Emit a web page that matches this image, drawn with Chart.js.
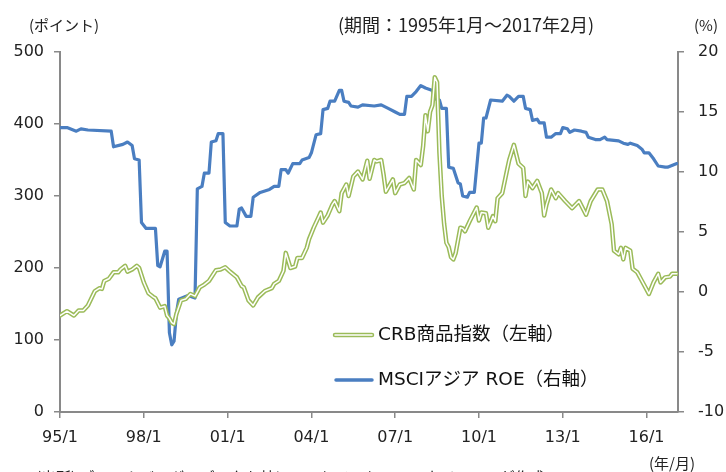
<!DOCTYPE html>
<html>
<head>
<meta charset="utf-8">
<script src="https://cdn.jsdelivr.net/npm/chart.js@4.4.1/dist/chart.umd.min.js"></script>
<style>
  body { margin: 0; background: #fff; }
  #wrap { width: 726px; height: 472px; position: relative; }
</style>
</head>
<body>
<div id="wrap"><canvas id="roeChart"></canvas></div>
<script>
// months are "year/month"
const crbDates = ['1995/1','1995/4','1995/7','1995/9','1995/11','1996/1','1996/4','1996/6','1996/7','1996/8','1996/10','1996/12',
  '1997/2','1997/3','1997/5','1997/6','1997/8','1997/10','1997/11','1998/1','1998/3','1998/5','1998/6','1998/8','1998/10',
  '1998/11','1998/12','1999/1','1999/2','1999/3','1999/5','1999/7','1999/9','1999/11','2000/1','2000/3','2000/5','2000/7',
  '2000/8','2000/10','2000/12','2001/2','2001/5','2001/7','2001/8','2001/10','2001/12','2002/2','2002/5','2002/8','2002/9',
  '2002/11','2003/1','2003/2','2003/4','2003/6','2003/7','2003/9','2003/11','2003/12','2004/2','2004/4','2004/5','2004/6',
  '2004/8','2004/10','2004/11','2005/1','2005/2','2005/4','2005/5','2005/7','2005/9','2005/11','2006/1','2006/2','2006/4',
  '2006/5','2006/7','2006/8','2006/9','2006/12','2007/1','2007/3','2007/5','2007/7','2007/9','2007/10','2007/12','2008/1',
  '2008/2','2008/3','2008/4','2008/5','2008/6','2008/7','2008/8','2008/9','2008/10','2008/11','2008/12','2009/1','2009/2',
  '2009/3','2009/5','2009/6','2009/7','2009/9','2009/12','2010/1','2010/2','2010/4','2010/5','2010/7','2010/8','2010/9',
  '2010/11','2011/1','2011/2','2011/4','2011/6','2011/8','2011/9','2011/10','2011/12','2012/2','2012/4','2012/5','2012/6',
  '2012/8','2012/10','2012/11','2013/2','2013/5','2013/8','2013/11','2014/1','2014/4','2014/6','2014/8','2014/10','2014/11',
  '2015/1','2015/2','2015/3','2015/4','2015/6','2015/7','2015/9','2015/11','2016/2','2016/4','2016/6','2016/7','2016/9',
  '2016/11','2016/12','2017/2'];
const crbValues = [134,140,134,141,141,148,168,172,171,182,185,194,
  194,198,203,195,198,203,200,180,165,160,158,145,147,
  134,130,124,122,136,155,157,164,161,173,177,182,192,
  197,198,201,195,187,175,173,155,148,159,168,172,178,
  182,196,221,200,202,214,214,228,240,256,270,277,263,
  273,288,293,279,304,316,300,327,334,323,349,324,350,
  348,350,330,306,323,304,316,318,325,309,350,343,369,
  412,390,417,426,465,458,360,300,262,235,229,215,212,
  221,256,255,251,265,284,266,277,276,256,272,265,297,
  304,335,350,371,345,339,300,320,311,321,304,273,288,
  309,297,304,293,283,293,274,293,309,309,293,261,224,
  219,228,212,228,224,199,194,182,164,180,192,180,187,
  188,192,192];

const roeDates = ['1995/1','1995/4','1995/8','1995/10','1996/1','1996/11','1996/12','1997/4','1997/6','1997/8','1997/9','1997/11',
  '1997/12','1998/2','1998/6','1998/7','1998/8','1998/10','1998/11','1998/12','1999/1','1999/2','1999/3','1999/4','1999/8',
  '1999/11','1999/12','2000/2','2000/3','2000/5','2000/6','2000/8','2000/9','2000/11','2000/12','2001/2','2001/5','2001/6',
  '2001/7','2001/9','2001/11','2001/12','2002/3','2002/7','2002/9','2002/11','2002/12','2003/2','2003/3','2003/5','2003/8',
  '2003/9','2003/12','2004/1','2004/3','2004/5','2004/6','2004/8','2004/9','2004/11','2005/1','2005/2','2005/3','2005/5',
  '2005/6','2005/9','2005/11','2006/4','2006/7','2006/10','2007/1','2007/3','2007/5','2007/6','2007/8','2007/10','2007/12',
  '2008/2','2008/5','2008/6','2008/8','2008/9','2008/11','2008/12','2009/2','2009/4','2009/5','2009/6','2009/8','2009/9',
  '2009/11','2010/1','2010/2','2010/3','2010/4','2010/6','2010/11','2011/1','2011/2','2011/4','2011/6','2011/8','2011/9',
  '2011/11','2011/12','2012/2','2012/3','2012/5','2012/6','2012/8','2012/10','2012/12','2013/1','2013/3','2013/4','2013/6',
  '2013/9','2013/11','2013/12','2014/3','2014/5','2014/7','2014/8','2015/1','2015/3','2015/5','2015/6','2015/9','2015/11',
  '2015/12','2016/2','2016/4','2016/6','2016/9','2016/10','2017/2'];
const roeValues = [13.7,13.7,13.4,13.6,13.5,13.4,12.1,12.3,12.5,12.2,11.1,11.0,
  5.8,5.3,5.3,2.2,2.1,3.4,3.4,-3.4,-4.4,-4.1,-1.8,-0.6,-0.3,
  -0.5,8.6,8.8,9.9,9.9,12.5,12.6,13.2,13.2,5.8,5.5,5.5,6.9,
  7.0,6.3,6.3,7.9,8.3,8.55,8.8,8.8,10.2,10.2,9.9,10.7,10.7,
  11.0,11.2,11.6,13.1,13.2,15.2,15.3,15.9,15.9,16.8,16.8,15.9,15.8,
  15.5,15.4,15.6,15.5,15.6,15.3,15.0,14.8,14.8,16.3,16.3,16.7,17.2,
  17.0,16.8,16.1,16.0,15.3,15.3,10.4,10.3,9.1,9.0,8.0,7.9,8.3,
  8.3,12.4,12.4,14.5,14.5,16.0,15.9,16.4,16.3,15.9,16.3,16.3,15.3,
  15.2,14.3,14.4,14.1,14.1,12.9,12.9,13.2,13.2,13.7,13.6,13.3,13.5,
  13.4,13.3,12.9,12.7,12.7,12.9,12.7,12.6,12.4,12.3,12.4,12.2,11.9,
  11.6,11.6,11.1,10.5,10.4,10.4,10.7,10.7];

const xTickLabels = ['95/1','98/1','01/1','04/1','07/1','10/1','13/1','16/1'];
const legendLabels = ['CRB商品指数（左軸）', 'MSCIアジア ROE（右軸）'];

const green = '#9BBB59';
const blue = '#4A7EC1';
const axisGray = '#898989';

function monthIndex(d) {
  const [y, m] = d.split('/').map(Number);
  return (y - 1995) * 12 + (m - 1);
}
const toPoints = (dates, vals) => dates.map((d, i) => ({ x: monthIndex(d), y: vals[i] }));
const crbPoints = toPoints(crbDates, crbValues);
const roePoints = toPoints(roeDates, roeValues);

const annotations = {
  id: 'annotations',
  afterDraw(chart) {
    const ctx = chart.ctx;
    ctx.save();
    ctx.fillStyle = '#222';
    ctx.textBaseline = 'middle';
    ctx.font = '15px "Noto Sans CJK JP"';
    ctx.textAlign = 'left';
    ctx.fillText('(ポイント)', 29, 25);
    ctx.textAlign = 'center';
    ctx.fillText('(%)', 706, 25);
    ctx.fillText('(年/月)', 672, 463);
    ctx.font = '18px "Noto Sans CJK JP"';
    ctx.fillText('(期間：1995年1月～2017年2月)', 466, 25);
    ctx.font = '15px "Noto Sans CJK JP"';
    ctx.textAlign = 'left';
    ctx.textBaseline = 'top';
    ctx.fillText('(出所) ブルームバーグのデータを基にニッセイアセットマネジメントが作成', 36, 470);

    // legend
    ctx.lineCap = 'round';
    ctx.strokeStyle = green;
    ctx.lineWidth = 4.5;
    ctx.beginPath(); ctx.moveTo(335, 335); ctx.lineTo(372, 335); ctx.stroke();
    ctx.strokeStyle = '#fff';
    ctx.lineWidth = 1.5;
    ctx.beginPath(); ctx.moveTo(335, 335); ctx.lineTo(372, 335); ctx.stroke();
    ctx.strokeStyle = blue;
    ctx.lineWidth = 3.5;
    ctx.beginPath(); ctx.moveTo(336, 380); ctx.lineTo(372, 380); ctx.stroke();
    ctx.fillStyle = '#111';
    ctx.textBaseline = 'middle';
    ctx.font = '18.5px "DejaVu Sans", "Noto Sans CJK JP"';
    ctx.fillText(legendLabels[0], 378, 335);
    ctx.fillText(legendLabels[1], 378, 380);
    ctx.restore();
  }
};

const tickFont = { family: 'DejaVu Sans', size: 16 };
const axisGrid = { display: true, drawOnChartArea: false, drawTicks: true, tickLength: 6, color: axisGray, lineWidth: 1.5 };
const axisBorder = { display: true, color: axisGray, width: 2 };

new Chart(document.getElementById('roeChart'), {
  type: 'line',
  data: {
    datasets: [
      { data: crbPoints, yAxisID: 'y', borderColor: '#fff', borderWidth: 1.5, order: 1 },
      { data: crbPoints, yAxisID: 'y', borderColor: green, borderWidth: 4.5, order: 2 },
      { data: roePoints, yAxisID: 'y1', borderColor: blue, borderWidth: 3.2, order: 3 }
    ]
  },
  options: {
    responsive: true,
    maintainAspectRatio: false,
    animation: false,
    layout: { padding: { top: 52, left: 0, right: 0, bottom: 0 } },
    elements: {
      point: { radius: 0 },
      line: { tension: 0, borderJoinStyle: 'round', borderCapStyle: 'round' }
    },
    plugins: { legend: { display: false }, tooltip: { enabled: false } },
    scales: {
      x: {
        type: 'linear',
        min: 0,
        max: 265.5,
        grid: axisGrid,
        border: axisBorder,
        afterFit(s) { s.height = 60; },
        afterBuildTicks(s) {
          s.ticks = xTickLabels.map((_, i) => ({ value: i * 36 }));
        },
        ticks: {
          font: tickFont,
          color: '#222',
          padding: 10,
          maxRotation: 0,
          autoSkip: false,
          callback: (v) => xTickLabels[v / 36]
        }
      },
      y: {
        position: 'left',
        min: 0,
        max: 500,
        grid: axisGrid,
        border: axisBorder,
        afterFit(s) { s.width = 60; },
        ticks: { stepSize: 100, font: tickFont, color: '#222', padding: 10 }
      },
      y1: {
        position: 'right',
        min: -10,
        max: 20,
        grid: axisGrid,
        border: axisBorder,
        afterFit(s) { s.width = 48; },
        ticks: { stepSize: 5, font: tickFont, color: '#222', padding: 14 }
      }
    }
  },
  plugins: [annotations]
});
</script>
</body>
</html>
